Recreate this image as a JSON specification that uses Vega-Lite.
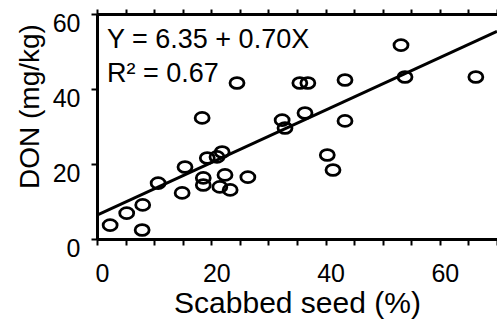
{
  "$schema": "https://vega.github.io/schema/vega-lite/v6.json",
  "width": 400,
  "height": 225,
  "autosize": {"type": "none"},
  "padding": {"left": 97, "top": 14, "right": 0, "bottom": 81},
  "background": "white",
  "config": {
    "view": {"stroke": null},
    "font": "Liberation Sans",
    "axis": {"grid": false, "domainColor": "black", "tickColor": "black", "labelColor": "black", "titleColor": "black", "labelFont": "Liberation Sans", "titleFont": "Liberation Sans", "titleFontWeight": "normal"}
  },
  "datasets": {
    "points": [
      {"seed": 2.3, "don": 3.7},
      {"seed": 5.2, "don": 6.9},
      {"seed": 8.0, "don": 9.1},
      {"seed": 7.9, "don": 2.4},
      {"seed": 10.7, "don": 14.9},
      {"seed": 14.9, "don": 12.3},
      {"seed": 15.4, "don": 19.2},
      {"seed": 18.4, "don": 32.3},
      {"seed": 19.3, "don": 21.6},
      {"seed": 21.0, "don": 21.9},
      {"seed": 21.9, "don": 23.2},
      {"seed": 18.6, "don": 16.3},
      {"seed": 18.6, "don": 14.4},
      {"seed": 22.4, "don": 17.1},
      {"seed": 21.5, "don": 13.9},
      {"seed": 23.3, "don": 13.1},
      {"seed": 26.4, "don": 16.5},
      {"seed": 24.5, "don": 41.6},
      {"seed": 32.4, "don": 31.7},
      {"seed": 32.9, "don": 29.6},
      {"seed": 35.5, "don": 41.6},
      {"seed": 36.9, "don": 41.6},
      {"seed": 43.4, "don": 42.4},
      {"seed": 36.4, "don": 33.6},
      {"seed": 43.4, "don": 31.5},
      {"seed": 40.3, "don": 22.4},
      {"seed": 41.3, "don": 18.4},
      {"seed": 53.2, "don": 51.7},
      {"seed": 53.9, "don": 43.2},
      {"seed": 66.3, "don": 43.2}
    ],
    "fit": [
      {"seed": 0, "don": 6.35},
      {"seed": 70, "don": 55.35}
    ],
    "notes": [
      {"seed": 1.75, "don": 50.9, "label": "Y = 6.35 + 0.70X"},
      {"seed": 1.75, "don": 41.9, "label": "R² = 0.67"}
    ]
  },
  "resolve": {"axis": {"x": "independent"}},
  "layer": [
    {
      "data": {"name": "points"},
      "mark": {"type": "point", "shape": "M -1 0 A 1 0.78 0 1 1 1 0 A 1 0.78 0 1 1 -1 0 Z", "size": 196, "filled": false, "stroke": "black", "strokeWidth": 2.8, "opacity": 1},
      "encoding": {
        "x": {"field": "seed", "type": "quantitative", "scale": {"domain": [0, 70], "nice": false, "zero": false},
          "axis": {"orient": "bottom", "title": "Scabbed seed (%)", "values": [0,5,10,15,20,25,30,35,40,45,50,55,60,65,70],
            "labelExpr": "datum.value % 20 === 0 ? datum.label : ''", "labelFontSize": 25, "labelOffset": 5, "labelPadding": 16, "labelBaseline": "top",
            "tickSize": 6, "tickWidth": 2, "domainWidth": 3, "titleFontSize": 30, "titleY": 73, "titleBaseline": "alphabetic", "labelFlush": false, "labelOverlap": false}},
        "y": {"field": "don", "type": "quantitative", "scale": {"domain": [0, 60], "nice": false},
          "axis": {"title": "DON (mg/kg)", "values": [0,5,10,15,20,25,30,35,40,45,50,55,60],
            "labelExpr": "datum.value % 20 === 0 ? datum.label : ''", "labelFontSize": 25, "labelOffset": 9, "labelPadding": 11,
            "tickSize": 6, "tickWidth": 2, "domainWidth": 3, "titleFontSize": 28, "titleX": -67, "titleY": 92, "titleAngle": -90, "titleAlign": "center", "titleBaseline": "middle", "labelFlush": false, "labelOverlap": false}}
      }
    },
    {
      "data": {"name": "fit"},
      "mark": {"type": "line", "color": "black", "strokeWidth": 3, "clip": true},
      "encoding": {
        "x": {"field": "seed", "type": "quantitative", "scale": {"domain": [0, 70], "nice": false, "zero": false},
          "axis": {"orient": "top", "title": null, "labels": false, "values": [0,5,10,15,20,25,30,35,40,45,50,55,60,65,70], "tickSize": 5, "tickWidth": 2, "domainWidth": 3}},
        "y": {"field": "don", "type": "quantitative"}
      }
    },
    {
      "data": {"name": "notes"},
      "mark": {"type": "text", "align": "left", "baseline": "alphabetic", "fontSize": 27, "font": "Liberation Sans", "color": "black"},
      "encoding": {
        "x": {"field": "seed", "type": "quantitative", "axis": null},
        "y": {"field": "don", "type": "quantitative"},
        "text": {"field": "label"}
      }
    }
  ]
}
